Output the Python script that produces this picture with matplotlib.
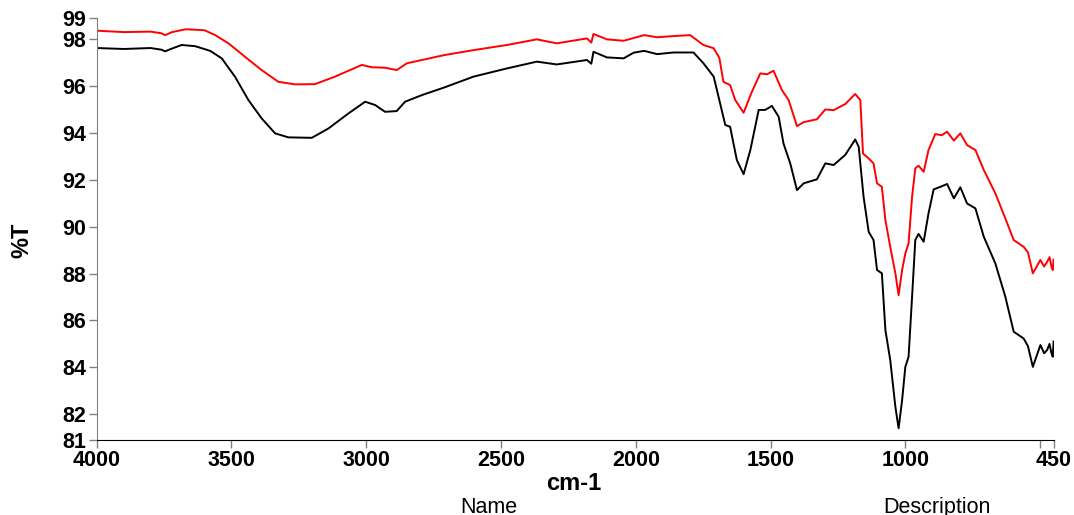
import matplotlib
matplotlib.use("Agg")
import matplotlib.pyplot as plt

# --- data (wavenumber cm-1, %T) ---
black_wn = [4000, 3900, 3800, 3760, 3746, 3720, 3685, 3635, 3579, 3536, 3487, 3437, 3388, 3338, 3289,
            3202, 3140, 3066, 3004, 2967, 2930, 2887, 2856, 2794, 2710, 2602, 2478, 2367, 2293,
            2181, 2165, 2157, 2107, 2045, 2008, 1969, 1921, 1860, 1786, 1749, 1711, 1693,
            1668, 1650, 1625, 1600, 1575, 1544, 1520, 1495, 1470, 1452, 1427, 1402, 1377, 1328,
            1297, 1266, 1223, 1186, 1173, 1155, 1136, 1118, 1105, 1087, 1074, 1056, 1037, 1025,
            1012, 1000, 988, 975, 963, 951, 932, 914, 895, 870, 845, 820, 796, 771, 740, 709,
            666, 629, 598, 561, 545, 527, 499, 485, 474, 465, 458, 453, 450]
black_t = [97.62, 97.58, 97.62, 97.55, 97.48, 97.6, 97.75, 97.7, 97.5, 97.18, 96.4, 95.4, 94.62, 93.98, 93.81,
           93.79, 94.19, 94.83, 95.33, 95.19, 94.9, 94.93, 95.33, 95.61, 95.94, 96.4, 96.75, 97.04, 96.92,
           97.11, 96.95, 97.46, 97.22, 97.18, 97.42, 97.5, 97.36, 97.43, 97.43, 96.97, 96.4, 95.54,
           94.34, 94.26, 92.84, 92.24, 93.27, 94.98, 94.98, 95.15, 94.69, 93.55, 92.7, 91.56, 91.85, 92.02,
           92.7, 92.63, 93.06, 93.72, 93.41, 91.28, 89.78, 89.43, 88.15, 88.01, 85.59, 84.31, 82.32, 81.4,
           82.6, 84.02, 84.45, 87.01, 89.43, 89.69, 89.36, 90.57, 91.59, 91.7, 91.82, 91.21, 91.68, 90.99, 90.78, 89.57,
           88.43, 87.01, 85.52, 85.23, 84.9, 84.02, 84.95, 84.6, 84.74, 85.0, 84.6, 84.45, 85.1]

red_wn = [4000, 3900, 3800, 3760, 3746, 3720, 3670, 3600, 3560, 3511, 3450, 3388, 3326, 3264, 3190,
          3116, 3016, 2979, 2930, 2887, 2849, 2710, 2602, 2478, 2367, 2293, 2181, 2165, 2157,
          2107, 2045, 1969, 1921, 1860, 1798, 1749, 1711, 1690, 1675, 1650, 1631, 1600, 1569,
          1538, 1513, 1489, 1458, 1433, 1402, 1377, 1328, 1297, 1266, 1223, 1186, 1167, 1157,
          1136, 1118, 1105, 1087, 1074, 1056, 1037, 1025, 1012, 1000, 988, 975, 963, 951, 932,
          914, 889, 865, 845, 820, 796, 771, 740, 709, 666, 629, 598, 561, 545, 527, 499, 485,
          474, 465, 458, 453, 450]
red_t = [98.36, 98.3, 98.32, 98.25, 98.17, 98.3, 98.42, 98.38, 98.17, 97.82, 97.25, 96.68, 96.18, 96.07, 96.08,
         96.4, 96.9, 96.8, 96.78, 96.68, 96.97, 97.32, 97.53, 97.75, 97.99, 97.82, 98.03, 97.85, 98.22,
         97.99, 97.93, 98.17, 98.08, 98.13, 98.17, 97.75, 97.61, 97.2, 96.18, 96.04, 95.4, 94.86, 95.76,
         96.54, 96.5, 96.65, 95.83, 95.4, 94.29, 94.46, 94.58, 95.0, 94.97, 95.23, 95.66, 95.4, 93.12,
         92.91, 92.7, 91.85, 91.7, 90.28, 89.14, 88.01, 87.08, 88.15, 88.86, 89.29, 91.28, 92.49, 92.6, 92.34,
         93.27, 93.95, 93.9, 94.05, 93.67, 93.98, 93.48, 93.27, 92.42, 91.42, 90.35, 89.43, 89.14, 88.9, 88.01, 88.58, 88.3,
         88.5, 88.7, 88.3, 88.15, 88.6]

x_ticks = [4000, 3500, 3000, 2500, 2000, 1500, 1000, 500, 450]
x_labels = ["4000", "3500", "3000", "2500", "2000", "1500", "1000", "", "450"]
y_ticks = [80.9, 82, 84, 86, 88, 90, 92, 94, 96, 98, 98.9]
y_labels = ["81", "82", "84", "86", "88", "90", "92", "94", "96", "98", "99"]

plt.rcParams['font.family'] = ['Liberation Sans', 'DejaVu Sans']

fig = plt.figure(figsize=(10.74, 5.15), dpi=100)
ax = fig.add_axes([0.090, 0.1456, 0.891, 0.8194])

ax.plot(red_wn, red_t, color='#ff0000', lw=1.4)
ax.plot(black_wn, black_t, color='#000000', lw=1.4)

ax.set_xlim(4000, 450)
ax.set_ylim(80.9, 98.9)
ax.set_xticks(x_ticks)
ax.set_xticklabels(x_labels)
ax.set_yticks(y_ticks)
ax.set_yticklabels(y_labels)

for s in ['top', 'right']:
    ax.spines[s].set_visible(False)
ax.spines['left'].set_color('#808080')
ax.spines['bottom'].set_color('#000000')
ax.tick_params(axis='both', direction='out', length=6, width=1, color='#808080',
               labelsize=15.5, pad=1.5)
for lab in ax.get_xticklabels() + ax.get_yticklabels():
    lab.set_fontweight('bold')

fig.text(22 / 1074, 1 - 240 / 515, "%T", rotation=90, ha='center', va='center',
         fontsize=17, fontweight='bold')
fig.text(574 / 1074, 1 - 483 / 515, "cm-1", ha='center', va='center',
         fontsize=17, fontweight='bold')
fig.text(489 / 1074, 1 - 513 / 515, "Name", ha='center', va='baseline', fontsize=15.5)
fig.text(937 / 1074, 1 - 513 / 515, "Description", ha='center', va='baseline', fontsize=15.5)

fig.savefig("out.png", dpi=100)
